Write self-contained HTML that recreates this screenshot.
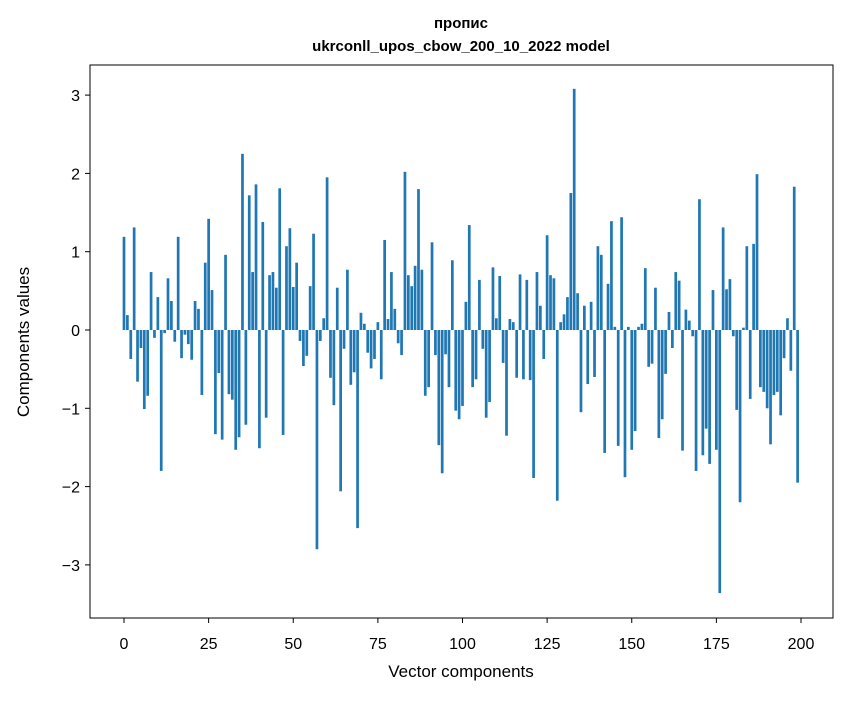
<!DOCTYPE html>
<html><head><meta charset="utf-8"><style>
body{margin:0;background:#fff;}
svg text{font-family:"Liberation Sans","DejaVu Sans",sans-serif;}
</style></head><body>
<svg id="chart" width="847" height="696" xmlns="http://www.w3.org/2000/svg">
<text x="461" y="28" text-anchor="middle" font-size="15" font-weight="bold">пропис</text>
<text x="461" y="51" text-anchor="middle" font-size="15" font-weight="bold">ukrconll_upos_cbow_200_10_2022 model</text>
<g id="bars"></g>
<g id="xticks"></g>
<g id="yticks"></g>
<rect x="90" y="65" width="743" height="553" fill="none" stroke="#000" stroke-width="1"/>
<text x="461" y="677" text-anchor="middle" font-size="17">Vector components</text>
<text transform="translate(29,342) rotate(-90)" text-anchor="middle" font-size="17">Components values</text>
</svg>
<script>
const values = [1.19,0.19,-0.37,1.31,-0.66,-0.23,-1.01,-0.84,0.74,-0.10,0.42,-1.80,-0.04,0.66,0.37,-0.15,1.19,-0.36,-0.06,-0.18,
-0.38,0.37,0.27,-0.83,0.86,1.42,0.51,-1.33,-0.55,-1.40,0.96,-0.82,-0.89,-1.53,-1.37,2.25,-1.21,1.72,0.74,1.86,
-1.51,1.38,-1.12,0.70,0.74,0.54,1.81,-1.34,1.07,1.30,0.55,0.86,-0.14,-0.46,-0.33,0.56,1.23,-2.80,-0.14,0.15,
1.95,-0.61,-0.96,0.54,-2.06,-0.24,0.77,-0.70,-0.54,-2.53,0.22,0.08,-0.29,-0.49,-0.37,0.10,-0.63,1.15,0.14,0.74,
0.27,-0.17,-0.32,2.02,0.70,0.56,0.82,1.80,0.77,-0.84,-0.73,1.12,-0.32,-1.47,-1.83,-0.31,-0.73,0.89,-1.03,-1.14,
-0.97,0.36,1.34,-0.73,-0.63,0.64,-0.24,-1.12,-0.92,0.80,0.15,0.69,-0.42,-1.35,0.14,0.10,-0.61,0.71,-0.63,0.64,
-0.64,-1.89,0.74,0.31,-0.37,1.21,0.70,0.66,-2.18,0.10,0.20,0.42,1.75,3.08,0.47,-1.05,0.31,-0.69,0.36,-0.60,
1.07,0.96,-1.57,0.59,1.39,0.04,-1.48,1.44,-1.88,0.04,-1.53,-1.29,0.04,0.08,0.79,-0.47,-0.43,0.54,-1.38,-1.14,
-0.56,0.23,-0.23,0.74,0.63,-1.54,0.26,0.12,-0.08,-1.80,1.67,-1.60,-1.26,-1.71,0.51,-1.53,-3.36,1.31,0.52,0.65,
-0.08,-1.02,-2.20,0.03,1.07,-0.88,1.10,1.99,-0.73,-0.79,-1.00,-1.46,-0.83,-0.79,-1.09,-0.36,0.15,-0.52,1.83,-1.95];
const xTicks = [0,25,50,75,100,125,150,175,200];
const yTicks = [-3,-2,-1,0,1,2,3];
const yTickLabels = ["−3","−2","−1","0","1","2","3"];
const NS="http://www.w3.org/2000/svg";
function xs(v){return 124+v*(801-124)/200;}
function ys(v){return 330-v*78.3;}
const bars=document.getElementById('bars');
values.forEach((v,i)=>{
 const r=document.createElementNS(NS,'rect');
 
 
 const w=0.8*(801-124)/200;
 r.setAttribute('x',xs(i)-w/2);
 r.setAttribute('width',w);
 r.setAttribute('y',Math.min(ys(v),ys(0)));
 r.setAttribute('height',Math.abs(ys(v)-ys(0)));
 r.setAttribute('fill','#1f77b4');
 bars.appendChild(r);
});
const xg=document.getElementById('xticks');
xTicks.forEach(t=>{
 const l=document.createElementNS(NS,'line');
 
 
 l.setAttribute('x1',xs(t));l.setAttribute('x2',xs(t));l.setAttribute('y1',618);l.setAttribute('y2',623);l.setAttribute('stroke','#000');
 xg.appendChild(l);
 const tx=document.createElementNS(NS,'text');
 
 
 tx.setAttribute('x',xs(t));tx.setAttribute('y',649);tx.setAttribute('text-anchor','middle');tx.setAttribute('font-size','16');
 tx.textContent=t;xg.appendChild(tx);
});
const yg=document.getElementById('yticks');
yTicks.forEach((t,i)=>{
 const l=document.createElementNS(NS,'line');
 
 
 l.setAttribute('x1',85);l.setAttribute('x2',90);l.setAttribute('y1',ys(t));l.setAttribute('y2',ys(t));l.setAttribute('stroke','#000');
 yg.appendChild(l);
 const tx=document.createElementNS(NS,'text');
 
 
 tx.setAttribute('x',80);tx.setAttribute('y',ys(t)+6);tx.setAttribute('text-anchor','end');tx.setAttribute('font-size','16');
 tx.textContent=yTickLabels[i];yg.appendChild(tx);
});
</script>
</body></html>
